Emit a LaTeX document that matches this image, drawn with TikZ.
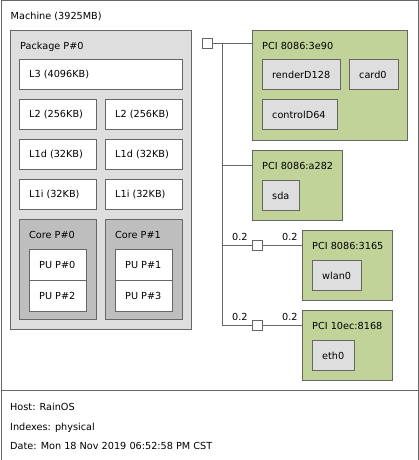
\documentclass[tikz,border=0pt]{standalone}
\usepackage{fontspec}
\setmainfont{DejaVu Sans}
\usetikzlibrary{positioning}
\definecolor{edge}{HTML}{666666}
\definecolor{pkgfill}{HTML}{DEDEDE}
\definecolor{corefill}{HTML}{BEBEBE}
\definecolor{pcifill}{HTML}{C2D39A}
\definecolor{osdev}{HTML}{DEDEDE}

\begin{document}
\begin{tikzpicture}[x=1pt, y=-1pt, font=\fontsize{9.7}{12}\selectfont,
    box/.style={draw=edge, line width=1pt, anchor=north west, inner sep=0pt},
    head/.style={label={[anchor=base west, xshift=10pt, yshift=-19pt, inner sep=0pt]north west:{#1}}},
    tag/.style={label={[anchor=west, xshift=10pt, inner sep=0pt]west:{#1}}},
    cache/.style={box, fill=white, minimum width=77, minimum height=30},
    pu/.style={box, fill=white, minimum width=57, minimum height=31},
    pci/.style={box, fill=pcifill},
    osbox/.style={box, fill=osdev, minimum height=30},
    bridge/.style={draw=edge, line width=1pt, fill=white, minimum size=10, inner sep=0pt},
    wire/.style={draw=edge, line width=1pt},
    txt/.style={anchor=base west, inner sep=0pt}]

    \useasboundingbox (0,0) rectangle (418,460);

    % machine and legend
    \node[box, fill=white, minimum width=417, minimum height=390, head={Machine (3925MB)}] (machine) at (0.5,0.5) {};
    \node[box, fill=white, minimum width=417, minimum height=69.5] (legend) at (0.5,390) {};
    \node[txt] (host) at (10,410) {Host: RainOS};
    \node[txt] (idx)  at (10,430) {Indexes: physical};
    \node[txt] (date) at (10,449) {Date: Mon 18 Nov 2019 06:52:58 PM CST};

    % package
    \node[box, fill=pkgfill, minimum width=181, minimum height=299, head={Package P\#0}] (pkg) at (10,30) {};
    \node[cache, minimum width=163, tag={L3 (4096KB)}] (l3) at (19,59) {};
    \node[cache, tag={L2 (256KB)}]  (l2a)  at (19,99)  {};
    \node[cache, tag={L2 (256KB)}]  (l2b)  at (105,99) {};
    \node[cache, tag={L1d (32KB)}]  (l1da) at (19,139) {};
    \node[cache, tag={L1d (32KB)}]  (l1db) at (105,139) {};
    \node[cache, tag={L1i (32KB)}]  (l1ia) at (19,179) {};
    \node[cache, tag={L1i (32KB)}]  (l1ib) at (105,179) {};

    \node[box, fill=corefill, minimum width=77, minimum height=100, head={Core P\#0}] (core0) at (19,219) {};
    \node[box, fill=corefill, minimum width=77, minimum height=100, head={Core P\#1}] (core1) at (105,219) {};
    \node[pu, tag={PU P\#0}] (pu0) at (29,249)  {};
    \node[pu, tag={PU P\#2}] (pu2) at (29,280)  {};
    \node[pu, tag={PU P\#1}] (pu1) at (115,249) {};
    \node[pu, tag={PU P\#3}] (pu3) at (115,280) {};

    % pci devices
    \node[pci, minimum width=155, minimum height=110, head={PCI 8086:3e90}] (pci0) at (252,30) {};
    \node[osbox, minimum width=78, tag={renderD128}] (render) at (262,59) {};
    \node[osbox, minimum width=49, tag={card0}]      (card)   at (349,59) {};
    \node[osbox, minimum width=75, tag={controlD64}] (ctrl)   at (262,99) {};

    \node[pci, minimum width=90, minimum height=70, head={PCI 8086:a282}] (pci1) at (252,150) {};
    \node[osbox, minimum width=37, tag={sda}] (sda) at (262,180) {};

    \node[pci, minimum width=90, minimum height=70, head={PCI 8086:3165}] (pci2) at (302,230) {};
    \node[osbox, minimum width=49, tag={wlan0}] (wlan) at (312,260) {};

    \node[pci, minimum width=90, minimum height=70, head={PCI 10ec:8168}] (pci3) at (302,310) {};
    \node[osbox, minimum width=42, tag={eth0}] (eth) at (312,340) {};

    % bridges and bus
    \node[bridge] (hb)  at (207,44)  {};
    \node[bridge] (br1) at (257,245) {};
    \node[bridge] (br2) at (257,325) {};
    \coordinate (bus) at (222,44);
    \coordinate (p1) at (252,165);

    \draw[wire] (hb) -- (hb -| pci0.west);
    \draw[wire] (bus) |- (br2);
    \draw[wire] (bus |- p1) -- (p1);
    \draw[wire] (bus |- br1) -- (br1);
    \draw[wire] (br1) -- (br1 -| pci2.west);
    \draw[wire] (br2) -- (br2 -| pci3.west);

    \node[txt] (bw1a) at (232,240) {0.2};
    \node[txt] (bw1b) at (282,240) {0.2};
    \node[txt] (bw2a) at (232,320) {0.2};
    \node[txt] (bw2b) at (282,320) {0.2};
  \end{tikzpicture}
\end{document}
